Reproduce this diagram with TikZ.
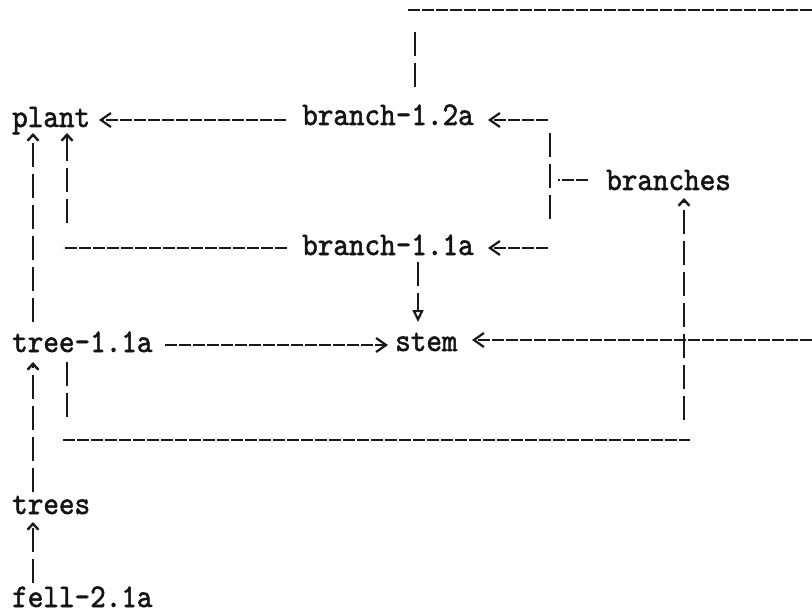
\documentclass[tikz,border=0pt]{standalone}
\usepackage{fontspec}
\newfontfamily\tw{lmmono10-regular}[Extension=.otf, FakeBold=1.6, FakeStretch=0.9]
\usetikzlibrary{arrows.meta}
\begin{document}
\begin{tikzpicture}[x=1pt,y=-1pt,
  lbl/.style={inner sep=0pt, anchor=base west, text=black!92,
    font=\fontsize{33}{33}\selectfont\tw},
  hl/.style={draw=black!90, line width=2.3pt, dash pattern=on 12pt off 2pt},
  vl/.style={draw=black!90, line width=2.5pt, dash pattern=on 24pt off 7pt},
  htip/.style={-{Straight Barb[length=10pt,width=14pt,line width=2.2pt]}},
  utip/.style={-{Straight Barb[length=6pt,width=11pt,line width=2.4pt]}},
  dtip/.style={-{Triangle[open,length=12pt,width=11pt,line width=2.2pt]}}]
\useasboundingbox[fill=white] (0,0) rectangle (812,615);

% nodes
\node[lbl] (plant)    at (12,127)  {plant};
\node[lbl] (b12)      at (302,125) {branch-1.2a};
\node[lbl] (branches) at (606,190) {branches};
\node[lbl] (b11)      at (302,255) {branch-1.1a};
\node[lbl] (tree)     at (12,352)  {tree-1.1a};
\node[lbl] (stem)     at (395,351) {stem};
\node[lbl] (trees)    at (12,514)  {trees};
\node[lbl] (fell)     at (12,607)  {fell-2.1a};
\coordinate (topR)  at (812,10);
\coordinate (stemR) at (812,340);

% branch-1.2a -> plant
\draw[hl,htip] ([shift={(-16,-5)}]b12.base west) -- ([shift={(87,-7)}]plant.base west);
% line from the right edge down to branch-1.2a
\draw[hl] (topR) -- ([shift={(106,-115)}]b12.base west);
\draw[vl] ([shift={(113,-93)}]b12.base west) -- ([shift={(113,-38)}]b12.base west);
% branches -> branch-1.2a, branch-1.1a
\draw[hl] ([shift={(-18,-10)}]branches.base west) -- ([shift={(-48,-10)}]branches.base west);
\draw[vl] ([shift={(-56,-57)}]branches.base west) -- ([shift={(-56,32)}]branches.base west);
\draw[hl,htip] ([shift={(246,-5)}]b12.base west) -- ([shift={(186,-5)}]b12.base west);
\draw[hl,htip] ([shift={(246,-7)}]b11.base west) -- ([shift={(186,-7)}]b11.base west);
% branch-1.1a -> plant
\draw[hl] ([shift={(-15,-7)}]b11.base west) -- ([shift={(-239,-7)}]b11.base west);
\draw[vl,utip] ([shift={(55,96)}]plant.base west) -- ([shift={(55,6)}]plant.base west);
% tree-1.1a -> plant
\draw[vl,utip] ([shift={(21,-30)}]tree.base west) -- ([shift={(21,6)}]plant.base west);
% branch-1.1a -> stem
\draw[vl,dtip] ([shift={(116,7)}]b11.base west) -- ([shift={(23,-29)}]stem.base west);
% tree-1.1a -> stem
\draw[hl,htip] ([shift={(153,-7)}]tree.base west) -- ([shift={(-7,-6)}]stem.base west);
% right edge -> stem
\draw[hl,htip] (stemR) -- ([shift={(77,-11)}]stem.base west);
% tree-1.1a -> branches
\draw[vl] ([shift={(55,10)}]tree.base west) -- ([shift={(55,65)}]tree.base west);
\draw[hl] ([shift={(51,88)}]tree.base west) -- ([shift={(678,88)}]tree.base west);
\draw[vl,utip] ([shift={(78,230)}]branches.base west) -- ([shift={(78,8)}]branches.base west);
% trees -> tree-1.1a
\draw[vl,utip] ([shift={(21,-22)}]trees.base west) -- ([shift={(21,10)}]tree.base west);
% fell-2.1a -> trees
\draw[vl,utip] ([shift={(21,-24)}]fell.base west) -- ([shift={(21,8)}]trees.base west);
\end{tikzpicture}
\end{document}
